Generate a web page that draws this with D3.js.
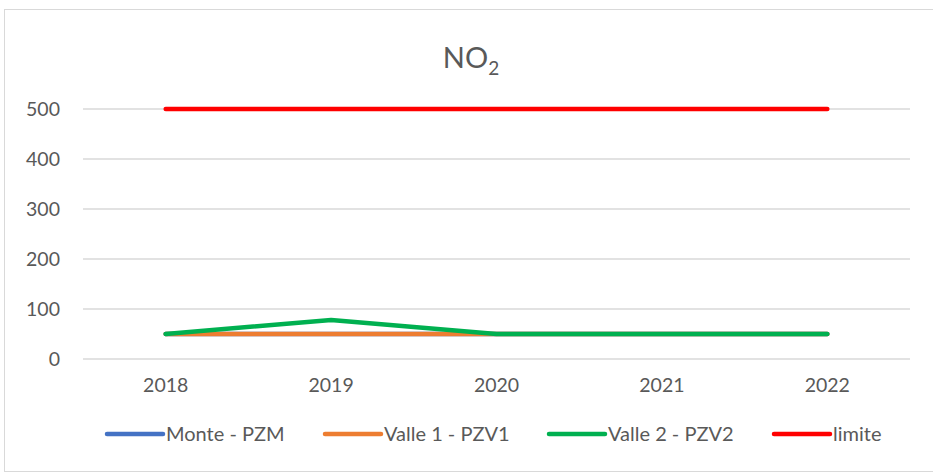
<!DOCTYPE html>
<html><head><meta charset="utf-8">
<script src="https://cdn.jsdelivr.net/npm/d3@7"></script>
<style>body{margin:0;background:#fff}svg{display:block}</style>
</head><body><svg id="c" width="933" height="476"></svg>
<script>
const years = ["2018","2019","2020","2021","2022"];
const monte = [50,50,50,50,50];
const valle1 = [50,50,50,50,50];
const valle2 = [50,78,50,50,50];
const limite = [500,500,500,500,500];
const yTicks = [0,100,200,300,400,500];
const seriesNames = ["Monte - PZM","Valle 1 - PZV1","Valle 2 - PZV2","limite"];
const seriesColors = ["#4472C4","#ED7D31","#00B050","#FF0000"];
const seriesData = [monte, valle1, valle2, limite];

const svg = d3.select("#c");
const font = "Lato, 'Open Sans', sans-serif";
const txt = "#595959";
svg.append("rect").attr("x",4.5).attr("y",9.5).attr("width",940).attr("height",462)
  .attr("fill","#fff").attr("stroke","#d9d9d9");

const x = d3.scaleBand().domain(years).range([83,910]);
const y = d3.scaleLinear().domain([0,500]).range([359,109]);

svg.append("g").selectAll("line").data(yTicks).join("line")
  .attr("x1",83).attr("x2",910).attr("y1",d=>y(d)).attr("y2",d=>y(d))
  .attr("stroke","#d9d9d9").attr("stroke-width",1.3);

const ya = svg.append("g").attr("transform","translate(60,0)")
  .call(d3.axisLeft(y).tickValues(yTicks).tickSize(0).tickPadding(0));
ya.select(".domain").remove();
ya.selectAll("text").attr("font-family",font).attr("font-size",19.5).attr("fill",txt);

const xa = svg.append("g").attr("transform","translate(0,376)")
  .call(d3.axisBottom(x).tickSize(0).tickPadding(0));
xa.select(".domain").remove();
xa.selectAll("text").attr("font-family",font).attr("font-size",19.5).attr("fill",txt).attr("dy","0.8em");

const line = d3.line().x((d,i)=>x(years[i])+x.bandwidth()/2).y(d=>y(d));
seriesData.forEach((s,k)=>{
  svg.append("path").datum(s).attr("d",line).attr("fill","none")
    .attr("stroke",seriesColors[k]).attr("stroke-width",4.5)
    .attr("stroke-linecap","round").attr("stroke-linejoin","round");
});

const t = svg.append("text").attr("x",471).attr("y",68).attr("text-anchor","middle")
  .attr("font-family",font).attr("font-size",29).attr("fill",txt);
t.append("tspan").text("NO");
t.append("tspan").text("2").attr("font-size",19).attr("dy",7);

const legX = [107,325,549,774];
const lg = svg.append("g");
seriesNames.forEach((n,k)=>{
  lg.append("line").attr("x1",legX[k]).attr("x2",legX[k]+56).attr("y1",434).attr("y2",434)
    .attr("stroke",seriesColors[k]).attr("stroke-width",4.5).attr("stroke-linecap","round");
  lg.append("text").attr("x",legX[k]+59).attr("y",434).attr("dy","0.35em")
    .attr("font-family",font).attr("font-size",20).attr("fill",txt).text(n);
});
</script></body></html>
